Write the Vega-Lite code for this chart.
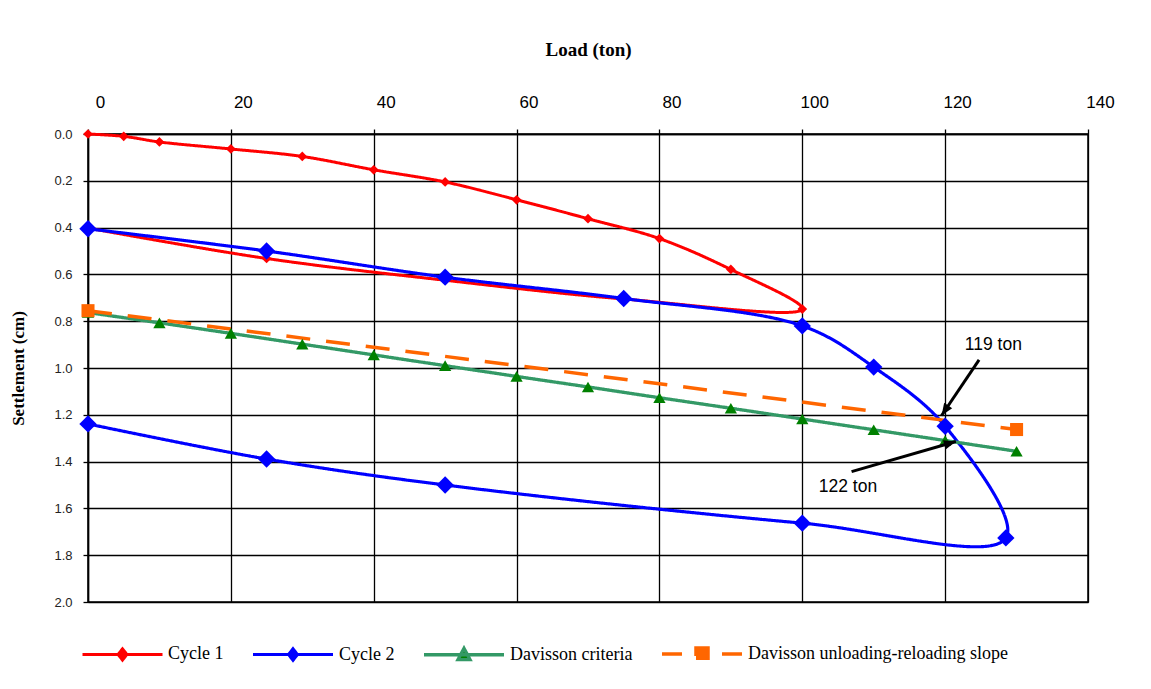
{
  "$schema": "https://vega.github.io/schema/vega-lite/v6.json",
  "width": 1000,
  "height": 468,
  "autosize": {"type": "none"},
  "padding": {"left": 88, "top": 134, "right": 63, "bottom": 87},
  "background": "white",
  "config": {
    "font": "Liberation Sans",
    "view": {"stroke": "black", "strokeWidth": 1.5},
    "axis": {
      "gridColor": "black", "gridOpacity": 1, "gridWidth": 1.3,
      "domainColor": "black", "domainWidth": 1.5,
      "tickColor": "black", "tickWidth": 1.3, "tickSize": 5
    }
  },
  "datasets": {
    "curves": [
      {"series": "Cycle 1", "i": 1, "load": 0, "settle": 0.0},
      {"series": "Cycle 1", "i": 2, "load": 5, "settle": 0.01},
      {"series": "Cycle 1", "i": 3, "load": 10, "settle": 0.034},
      {"series": "Cycle 1", "i": 4, "load": 20, "settle": 0.064},
      {"series": "Cycle 1", "i": 5, "load": 30, "settle": 0.096},
      {"series": "Cycle 1", "i": 6, "load": 40, "settle": 0.153},
      {"series": "Cycle 1", "i": 7, "load": 50, "settle": 0.205},
      {"series": "Cycle 1", "i": 8, "load": 60, "settle": 0.281},
      {"series": "Cycle 1", "i": 9, "load": 70, "settle": 0.362},
      {"series": "Cycle 1", "i": 10, "load": 80, "settle": 0.447},
      {"series": "Cycle 1", "i": 11, "load": 90, "settle": 0.579},
      {"series": "Cycle 1", "i": 12, "load": 100, "settle": 0.748},
      {"series": "Cycle 1", "i": 13, "load": 75, "settle": 0.705},
      {"series": "Cycle 1", "i": 14, "load": 50, "settle": 0.625},
      {"series": "Cycle 1", "i": 15, "load": 25, "settle": 0.532},
      {"series": "Cycle 1", "i": 16, "load": 0, "settle": 0.402},
      {"series": "Cycle 2", "i": 1, "load": 0, "settle": 0.405},
      {"series": "Cycle 2", "i": 2, "load": 25, "settle": 0.5},
      {"series": "Cycle 2", "i": 3, "load": 50, "settle": 0.612},
      {"series": "Cycle 2", "i": 4, "load": 75, "settle": 0.703},
      {"series": "Cycle 2", "i": 5, "load": 100, "settle": 0.82},
      {"series": "Cycle 2", "i": 6, "load": 110, "settle": 0.996},
      {"series": "Cycle 2", "i": 7, "load": 120, "settle": 1.249},
      {"series": "Cycle 2", "i": 8, "load": 128.5, "settle": 1.726},
      {"series": "Cycle 2", "i": 9, "load": 100, "settle": 1.663},
      {"series": "Cycle 2", "i": 10, "load": 50, "settle": 1.5},
      {"series": "Cycle 2", "i": 11, "load": 25, "settle": 1.389},
      {"series": "Cycle 2", "i": 12, "load": 0, "settle": 1.239},
      {"series": "Davisson criteria", "i": 1, "load": 0, "settle": 0.763},
      {"series": "Davisson criteria", "i": 2, "load": 10, "settle": 0.807},
      {"series": "Davisson criteria", "i": 3, "load": 20, "settle": 0.852},
      {"series": "Davisson criteria", "i": 4, "load": 30, "settle": 0.898},
      {"series": "Davisson criteria", "i": 5, "load": 40, "settle": 0.944},
      {"series": "Davisson criteria", "i": 6, "load": 50, "settle": 0.99},
      {"series": "Davisson criteria", "i": 7, "load": 60, "settle": 1.036},
      {"series": "Davisson criteria", "i": 8, "load": 70, "settle": 1.081},
      {"series": "Davisson criteria", "i": 9, "load": 80, "settle": 1.127},
      {"series": "Davisson criteria", "i": 10, "load": 90, "settle": 1.172},
      {"series": "Davisson criteria", "i": 11, "load": 100, "settle": 1.218},
      {"series": "Davisson criteria", "i": 12, "load": 110, "settle": 1.264},
      {"series": "Davisson criteria", "i": 13, "load": 120, "settle": 1.31},
      {"series": "Davisson criteria", "i": 14, "load": 130, "settle": 1.356},
      {"series": "Davisson unloading-reloading slope", "i": 1, "load": 0, "settle": 0.755},
      {"series": "Davisson unloading-reloading slope", "i": 2, "load": 130, "settle": 1.263}
    ],
    "notes": [
      {"label": "119 ton", "load": 126.75, "settle": 0.903},
      {"label": "122 ton", "load": 106.4, "settle": 1.51}
    ],
    "arrows": [
      {"name": "119", "load": 124.75, "settle": 0.965, "load2": 119.5, "settle2": 1.203},
      {"name": "122", "load": 106.9, "settle": 1.443, "load2": 121.5, "settle2": 1.314}
    ]
  },
  "layer": [
    {
      "data": {"name": "curves"},
      "mark": {"type": "line", "interpolate": "catmull-rom", "strokeCap": "butt"},
      "encoding": {
        "x": {
          "field": "load", "type": "quantitative",
          "scale": {"domain": [0, 140], "nice": false, "zero": false},
          "axis": {
            "orient": "top", "title": "Load (ton)",
            "values": [0, 20, 40, 60, 80, 100, 120, 140],
            "labelFont": "Liberation Sans", "labelFontSize": 17, "labelColor": "black",
            "labelPadding": 18, "labelOffset": 12, "labelFlush": false,
            "titleFont": "Liberation Serif", "titleFontWeight": "bold", "titleFontSize": 19,
            "titleColor": "black", "titlePadding": 34
          }
        },
        "y": {
          "field": "settle", "type": "quantitative",
          "scale": {"domain": [0, 2], "reverse": true, "nice": false, "zero": false},
          "axis": {
            "title": "Settlement (cm)",
            "values": [0, 0.2, 0.4, 0.6, 0.8, 1, 1.2, 1.4, 1.6, 1.8, 2],
            "format": ".1f",
            "labelFont": "Liberation Sans", "labelFontSize": 13, "labelColor": "#222222",
            "labelPadding": 11, "labelFlush": false,
            "titleFont": "Liberation Serif", "titleFontWeight": "bold", "titleFontSize": 17,
            "titleColor": "black", "titlePadding": 26
          }
        },
        "order": {"field": "i", "type": "quantitative"},
        "stroke": {
          "field": "series", "type": "nominal",
          "scale": {
            "domain": ["Cycle 1", "Cycle 2", "Davisson criteria", "Davisson unloading-reloading slope"],
            "range": ["#FF0000", "#0000FF", "#339966", "#FF6600"]
          },
          "legend": {
            "orient": "none", "legendX": -7, "legendY": 478,
            "direction": "horizontal", "title": null,
            "labelFont": "Liberation Serif", "labelFontSize": 18, "labelColor": "black",
            "labelLimit": 400, "labelOffset": 4, "columnPadding": 22,
            "symbolSize": 6400, "symbolStrokeWidth": 3, "symbolOpacity": 1,
            "encode": {
              "symbols": {
                "update": {
                  "shape": {"signal": "(datum.value === 'Cycle 1' || datum.value === 'Cycle 2') ? 'M-1,0L1,0M0,-0.14L0.11,0L0,0.14L-0.11,0Z' : (datum.value === 'Davisson criteria' ? 'M-1,0L1,0M0,-0.16L0.15,0.12L-0.15,0.12Z' : 'M-1,0L-0.5,0M0.5,0L1,0M-0.15,-0.15L0.15,-0.15L0.15,0.15L-0.15,0.15Z')"},
                  "fill": {"signal": "datum.value === 'Cycle 1' ? '#FF0000' : (datum.value === 'Cycle 2' ? '#0000FF' : (datum.value === 'Davisson criteria' ? '#008000' : '#FF6600'))"}
                }
              }
            }
          }
        },
        "strokeDash": {
          "field": "series", "type": "nominal",
          "scale": {
            "domain": ["Cycle 1", "Cycle 2", "Davisson criteria", "Davisson unloading-reloading slope"],
            "range": [[1, 0], [1, 0], [1, 0], [24, 16]]
          },
          "legend": null
        },
        "strokeWidth": {
          "field": "series", "type": "nominal",
          "scale": {
            "domain": ["Cycle 1", "Cycle 2", "Davisson criteria", "Davisson unloading-reloading slope"],
            "range": [3, 3.5, 5, 3.5]
          },
          "legend": null
        }
      }
    },
    {
      "data": {"name": "curves"},
      "transform": [{"filter": "datum.series === 'Cycle 1'"}],
      "mark": {"type": "point", "filled": true, "opacity": 1, "strokeWidth": 0, "size": 95, "shape": "diamond", "color": "#FF0000"},
      "encoding": {
        "x": {"field": "load", "type": "quantitative"},
        "y": {"field": "settle", "type": "quantitative"}
      }
    },
    {
      "data": {"name": "curves"},
      "transform": [{"filter": "datum.series === 'Cycle 2'"}],
      "mark": {"type": "point", "filled": true, "opacity": 1, "strokeWidth": 0, "size": 300, "shape": "diamond", "color": "#0000FF"},
      "encoding": {
        "x": {"field": "load", "type": "quantitative"},
        "y": {"field": "settle", "type": "quantitative"}
      }
    },
    {
      "data": {"name": "curves"},
      "transform": [{"filter": "datum.series === 'Davisson criteria'"}],
      "mark": {"type": "point", "filled": true, "opacity": 1, "strokeWidth": 0, "size": 150, "shape": "triangle-up", "color": "#008000"},
      "encoding": {
        "x": {"field": "load", "type": "quantitative"},
        "y": {"field": "settle", "type": "quantitative"}
      }
    },
    {
      "data": {"name": "curves"},
      "transform": [{"filter": "datum.series === 'Davisson unloading-reloading slope'"}],
      "mark": {"type": "point", "filled": true, "opacity": 1, "strokeWidth": 0, "size": 170, "shape": "square", "color": "#FF6600"},
      "encoding": {
        "x": {"field": "load", "type": "quantitative"},
        "y": {"field": "settle", "type": "quantitative"}
      }
    },
    {
      "data": {"name": "arrows"},
      "mark": {"type": "rule", "color": "black", "strokeWidth": 3, "strokeCap": "butt"},
      "encoding": {
        "x": {"field": "load", "type": "quantitative"},
        "y": {"field": "settle", "type": "quantitative"},
        "x2": {"field": "load2"},
        "y2": {"field": "settle2"}
      }
    },
    {
      "data": {"name": "arrows"},
      "transform": [{"filter": "datum.name === '119'"}],
      "mark": {"type": "point", "filled": true, "color": "black", "opacity": 1, "shape": "M0,0L-0.4,1L0.4,1Z", "size": 576, "angle": 213.4, "strokeWidth": 0},
      "encoding": {
        "x": {"field": "load2", "type": "quantitative"},
        "y": {"field": "settle2", "type": "quantitative"}
      }
    },
    {
      "data": {"name": "arrows"},
      "transform": [{"filter": "datum.name === '122'"}],
      "mark": {"type": "point", "filled": true, "color": "black", "opacity": 1, "shape": "M0,0L-0.4,1L0.4,1Z", "size": 576, "angle": 73.9, "strokeWidth": 0},
      "encoding": {
        "x": {"field": "load2", "type": "quantitative"},
        "y": {"field": "settle2", "type": "quantitative"}
      }
    },
    {
      "data": {"name": "notes"},
      "mark": {"type": "text", "font": "Liberation Sans", "fontSize": 17.5, "color": "black", "align": "center", "baseline": "middle"},
      "encoding": {
        "x": {"field": "load", "type": "quantitative"},
        "y": {"field": "settle", "type": "quantitative"},
        "text": {"field": "label"}
      }
    }
  ]
}
